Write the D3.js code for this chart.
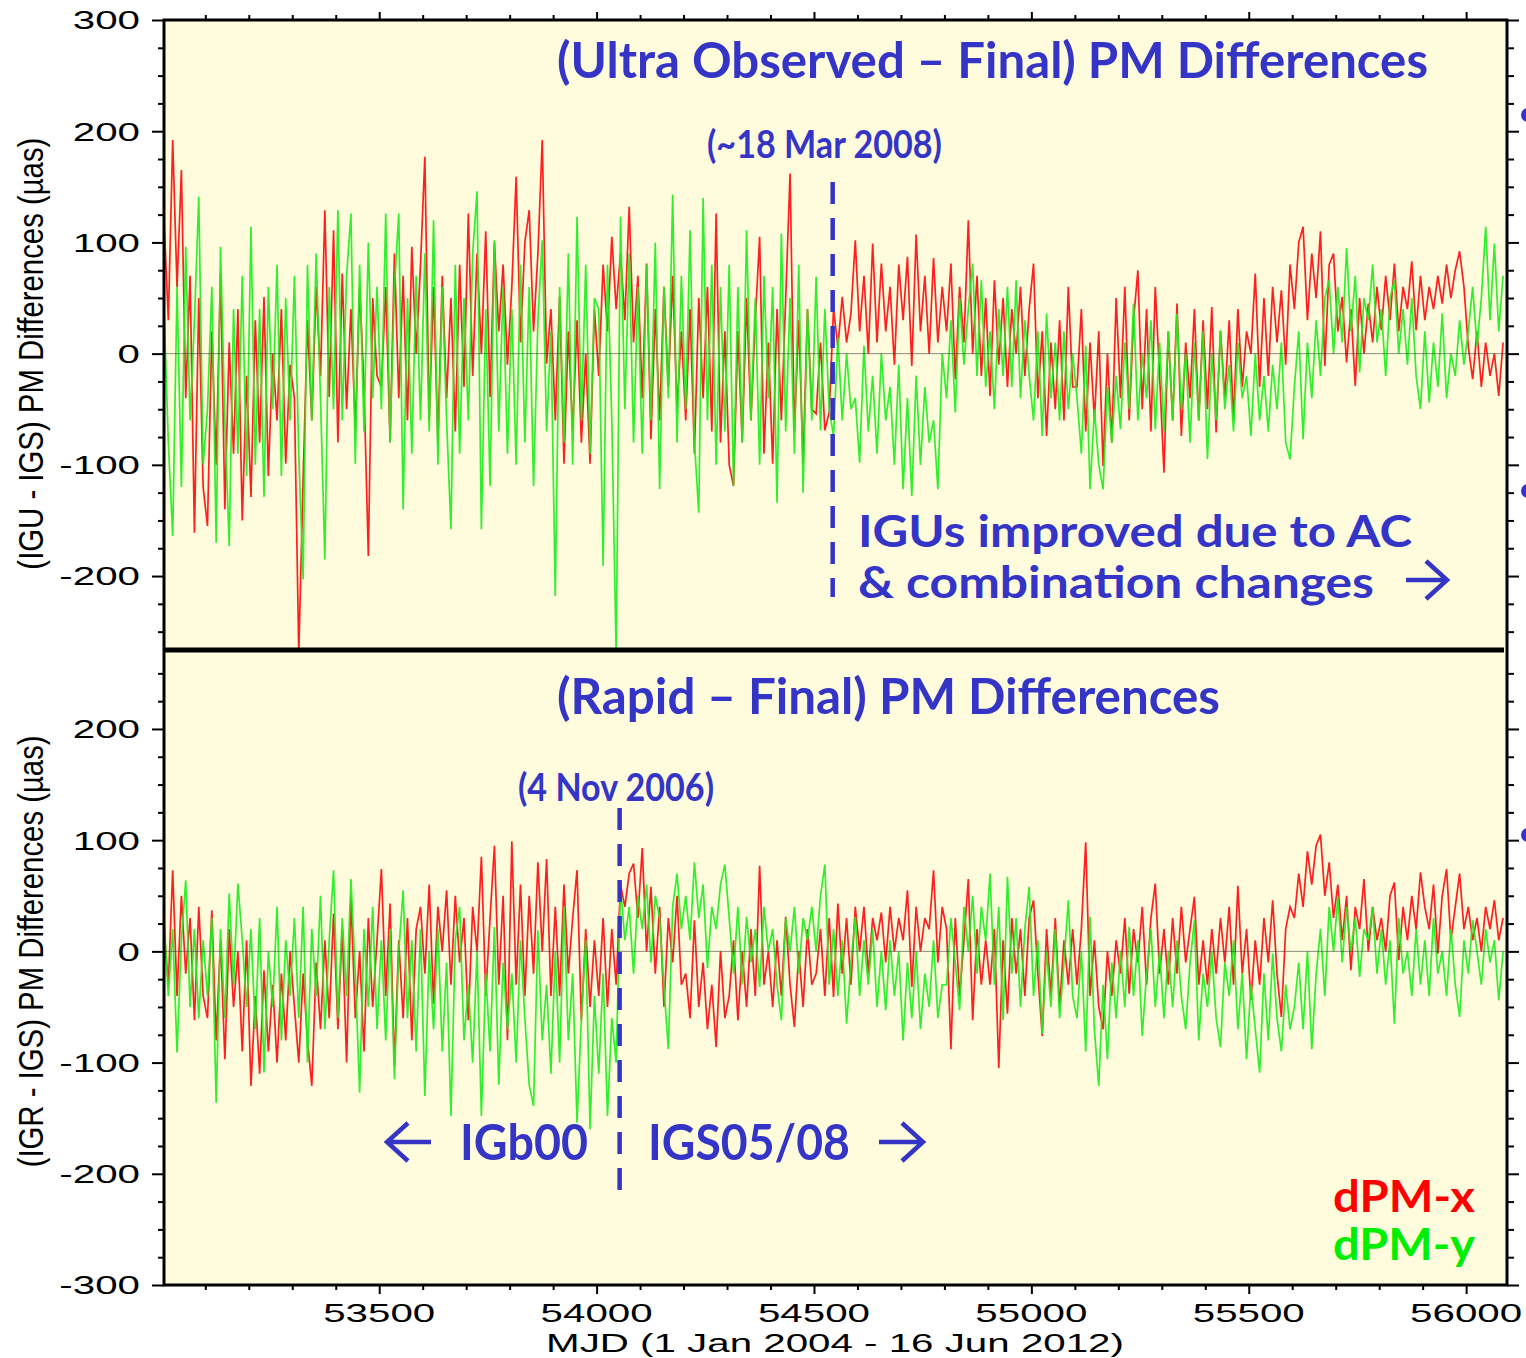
<!DOCTYPE html>
<html>
<head>
<meta charset="utf-8">
<script src="https://cdn.jsdelivr.net/npm/d3@7"></script>
<style>
  body { margin: 0; background: #fff; }
  svg  { display: block; }
  .tick-lab { font-family: "Liberation Sans", Arial, sans-serif; font-size: 26px; fill: #000; }
  .note     { font-family: Lato, "Open Sans", sans-serif; font-weight: 700; }
</style>
</head>
<body>
<svg id="chart" width="1526" height="1358"></svg>
<script>
// ── 데이터 (그림에서 읽은 값, MJD 53005 부터 10일 간격) ──────────
const START_MJD = 53005;
const STEP_DAYS = 10;

// (IGU - IGS) dPM-x
const iguDx = [
  120, 30, 192, 60, 165, -40, 70, -161, 50, -120,
  -155, 20, -100, 72, -140, 10, -90, 40, -150, -20,
  -129, 30, -80, 51, -110, 0, -60, 40, -99, -10,
  -40, -270, -113, 30, -60, 60, -20, 129, -39, 111,
  -80, 72, -50, 40, -69, 60, -30, -182, 50, -20,
  -30, 60, -80, 90, -40, 70, -60, 96, 0, 80,
  177, -60, 60, -80, 70, -40, 50, -70, 80, -30,
  126, -20, 90, 0, 110, -39, 100, 20, 80, -10,
  60, 159, 10, 100, 129, 20, 90, 192, -9, 40,
  -60, 51, -99, 20, -70, 30, -80, 0, -99, 40,
  -20, 80, 20, 105, 40, 90, 30, 132, 10, 70,
  -40, 81, -77, 40, -60, 60, -30, 70, -50, 20,
  -60, 40, -90, 50, -40, 60, -70, 126, -80, 20,
  -100, -119, 20, -80, 50, -60, 30, 105, -90, 10,
  -99, 40, -60, 50, 162, -70, 30, -99, 40, -50,
  -54, 10, -69, -53, 40, 6, 51, 10, 36, 102,
  20, 70, 0, 99, 10, 81, 20, 60, -10, 80,
  30, 87, -11, 107, 20, 70, 0, 86, 10, 60,
  20, 81, -23, 60, 10, 120, 0, 70, -20, 50,
  -38, 66, -10, 50, -30, 40, 0, 60, -20, 40,
  81, -40, 20, -74, 10, -50, 30, -60, 60, -30,
  -30, 40, -70, 10, -60, 20, -101, 0, -80, 50,
  -40, 60, -60, 30, 75, -50, 40, -70, 60, -20,
  -107, 20, -60, 45, -74, 10, -40, 40, -60, 30,
  -50, 42, -71, 20, -40, 30, -60, 40, -30, 20,
  0, 72, -30, 50, -20, 60, 10, 57, -10, 80,
  40, 100, 114, 30, 90, 50, 110, -11, 80, 90,
  20, 51, -8, 40, -29, 50, 0, 45, 10, 60,
  21, 70, 30, 81, 20, 60, 40, 83, 21, 70,
  30, 60, 40, 70, 45, 80, 50, 75, 92, 60,
  6, -23, 20, -30, 10, -20, 0, -38, 10
];

// (IGU - IGS) dPM-y
const iguDy = [
  40, -80, -164, 60, -120, 96, -60, 30, 141, -100,
  -50, 60, -170, 96, -60, -173, 40, -90, 70, -110,
  114, -100, 40, -129, 60, -50, 80, -110, 50, -60,
  70, -90, -203, 80, -60, 90, -40, -185, 60, -50,
  129, -60, 70, 126, -99, 80, -70, 100, -40, 60,
  -50, 126, -80, 60, 126, -140, 50, -90, 70, -60,
  90, -70, 120, -100, 60, -60, -158, 80, -90, 50,
  -60, 90, 146, -158, 40, -119, 102, -70, 60, -90,
  40, -100, 80, -80, 60, -119, 30, 102, -70, 20,
  -218, 60, -80, 90, -100, 123, -60, 80, -90, 50,
  40, -191, 80, -60, -270, 123, -50, 90, -80, 60,
  -90, 80, -60, 100, -122, 60, -40, 143, -80, 70,
  -50, 111, -80, -143, 140, -60, 80, -100, 60, -70,
  80, -119, 60, -80, 111, -60, 50, -100, 70, -40,
  60, -134, 108, -70, 50, -90, 80, -125, 40, -60,
  69, -69, 40, -50, -74, 15, -60, 0, -50, -40,
  -98, 7, -70, -20, -90, 0, -60, -30, -100, -10,
  -122, -40, -128, -20, -100, -30, -80, -60, -122, 0,
  -40, 30, -53, 50, -10, 40, 81, -20, 66, -30,
  20, -50, 40, -20, 60, -30, 66, -40, 30, -20,
  -60, 20, -74, 36, -40, 10, -60, 20, -50, 0,
  -40, -90, 7, -122, -50, -100, -122, -30, -80, -20,
  -68, 10, -50, 45, -60, 0, -40, 30, -68, 10,
  -70, 20, -60, 36, -50, 0, -80, 10, -60, 20,
  -95, 0, -60, 21, -50, -10, -70, 10, -40, -20,
  -74, 0, -60, -20, -70, -10, -50, 10, -80, -95,
  -30, 20, -77, 10, -40, 30, -20, 50, 66, 0,
  60, 10, 95, 20, 70, -17, 50, 30, 80, 10,
  40, -20, 50, 66, 0, 40, -10, 50, -20, -50,
  20, -44, 10, -30, 36, -40, 0, -20, 30, -10,
  20, 60, 7, 50, 114, 30, 99, 20, 70
];

// (IGR - IGS) dPM-x
const igrDx = [
  20, -30, 73, -40, 50, -20, 30, -62, 40, -40,
  -60, 37, -80, 10, -97, 20, -50, 0, -90, 10,
  -121, -40, -110, -17, -90, -30, -100, -20, -80, 0,
  -50, -100, -20, -80, -121, -10, -70, 10, -60, 34,
  -70, 20, -100, 49, -60, 0, -90, 30, -50, 10,
  74, -40, 43, -103, 10, -60, 30, -80, 20, 40,
  -20, 60, -47, 40, 0, 55, -30, 50, -10, 30,
  -62, 40, 0, 85, -40, 30, 95, -30, 50, -80,
  99, -30, 60, -40, 50, -20, 80, 0, 83, -40,
  40, -40, 60, -20, 30, 73, -62, 20, -50, 10,
  -40, 30, -50, 20, -30, 60, 40, 70, 79, 30,
  93, 0, 58, -20, 40, -50, 30, -10, 50, -30,
  -20, -60, 28, -50, -10, -70, -30, -86, 0, -60,
  -40, 10, -62, 0, -50, 20, -40, 77, -30, 0,
  -50, 10, -40, 31, -30, -68, 0, -50, 20, -30,
  -20, 20, -40, 30, -41, 43, -20, 30, -30, 40,
  0, 40, -20, 30, 10, 35, -10, 40, 0, 30,
  10, 55, -32, 40, 0, 30, 20, 73, -10, 40,
  20, -88, 30, -40, 10, 65, -62, 20, -30, 10,
  -30, 20, -105, 10, -56, 30, -20, 20, -40, 30,
  46, -20, -76, 20, -40, 30, -50, 10, -30, 20,
  -30, 20, 98, -40, 10, -50, -70, 0, -40, 10,
  -20, 30, -38, 20, -10, 40, -30, 30, 61, -20,
  20, -30, 30, -20, 40, -10, 20, 49, -30, 10,
  -30, 20, -20, 30, -10, 40, -30, 59, -20, 20,
  -44, 10, -30, 30, -10, 46, -20, -59, 20, 40,
  30, 70, 40, 90, 60, 95, 105, 50, 80, 30,
  60, 10, 50, -17, 40, 20, 65, 0, 40, 10,
  30, 0, 50, 62, -8, 40, 10, 50, 20, 71,
  40, 20, 60, -2, 50, 74, 10, 40, 70, 20,
  40, 10, 30, 0, 40, 20, 46, 10, 30
];

// (IGR - IGS) dPM-y
const igrDy = [
  30, -40, 20, -91, 10, 64, -50, 20, -60, 10,
  -40, 30, -136, 20, -60, 52, -30, 61, 10, -50,
  20, -70, 30, -109, 0, -50, 40, -80, 10, -40,
  30, -60, 40, -100, 20, -40, 50, -70, 10, 73,
  -60, 30, -40, 65, -20, -127, 20, -50, 40, -70,
  10, -80, 20, -115, 0, 55, -60, 10, -90, 20,
  -130, 0, -70, 20, -90, -10, -148, 10, 40, -80,
  -30, -100, 0, -148, -20, -90, 22, -120, -10, -70,
  -20, -100, 10, -60, -120, -139, 19, -80, -30, -110,
  0, -100, 40, -80, -20, -154, -60, 10, -160, -40,
  -110, -20, -148, -60, -100, 58, 10, 40, -20, 50,
  20, 60, -10, 50, 30, -32, -88, 40, 70, 20,
  50, 10, 80, 30, 60, -15, 40, 20, 60, 78,
  30, -20, 40, -30, 31, -10, 20, -32, 40, 0,
  20, -30, -62, 30, 0, 40, -20, 30, 10, 40,
  0, 50, 78, -30, 20, -40, 10, -65, -10, 31,
  -40, 10, -30, 20, -50, 0, -53, 10, -40, 0,
  -80, -10, -60, 0, -70, -20, -50, 10, -60, -30,
  -30, 30, -10, -53, 40, 0, 50, -20, 40, 10,
  70, -30, 40, -62, 67, -20, 30, -50, 20, 58,
  -40, 10, -74, 0, -50, 20, -60, -10, 46, -40,
  -60, 0, -90, 31, -70, -121, -30, -97, -10, -60,
  0, -50, 22, -40, 10, -76, -20, 20, -50, 0,
  -60, 0, -50, 10, -40, -70, -10, 28, -80, -20,
  -50, 0, -60, -86, -10, -40, 10, -70, -20, -97,
  -30, -70, -109, -20, -80, -2, -60, -90, -30, -70,
  -50, -10, -70, 0, -88, -20, 20, -40, 40, 0,
  49, -10, 40, 0, 30, -23, 20, 10, 40, -20,
  20, -30, 10, -65, 30, -20, 0, -40, 20, -30,
  10, -40, 30, -20, 0, -40, 20, -30, -59, 10,
  -20, 28, 0, -30, 20, -10, 10, -44, 0
];

// 축 눈금
const xLabelTicks   = [53500, 54000, 54500, 55000, 55500, 56000];
const yTopLabels    = [300, 200, 100, 0, -100, -200];
const yBottomLabels = [200, 100, 0, -100, -200, -300];

// 주석 날짜 (MJD)
const ultraChangeMJD = 54543;  // ~18 Mar 2008
const rapidChangeMJD = 54053;  // 4 Nov 2006 (그림상 위치)

// ── 레이아웃 ──────────────────────────────────────────────────
const X0 = 164, X1 = 1507;
const TOP_Y0 = 20, MID_Y = 650, BOT_Y1 = 1285;
const BLUE  = "#3434c6";
const RED   = "#ff1f1f";
const GREEN = "#1fee1f";

const svg = d3.select("#chart");

const x = d3.scaleLinear().domain([53005, 56094]).range([X0, X1]);
const yTop = d3.scaleLinear().domain([-266.5, 300]).range([MID_Y, TOP_Y0]);
const yBot = d3.scaleLinear().domain([-300, 271]).range([BOT_Y1, MID_Y]);

const toPoints = arr => arr.map((v, i) => ({ mjd: START_MJD + i * STEP_DAYS, v }));

// 배경
svg.append("rect").attr("x", X0).attr("y", TOP_Y0)
   .attr("width", X1 - X0).attr("height", BOT_Y1 - TOP_Y0).attr("fill", "#fefcdd");

// 클립 영역
const defs = svg.append("defs");
defs.append("clipPath").attr("id", "clip-top").append("rect")
    .attr("x", X0).attr("y", TOP_Y0).attr("width", X1 - X0).attr("height", MID_Y - TOP_Y0);
defs.append("clipPath").attr("id", "clip-bot").append("rect")
    .attr("x", X0).attr("y", MID_Y).attr("width", X1 - X0).attr("height", BOT_Y1 - MID_Y);

// ── 시계열 ───────────────────────────────────────────────────
function drawPanel(y, clipId, seriesX, seriesY) {
    const g = svg.append("g").attr("clip-path", `url(#${clipId})`);
    const line = d3.line().x(d => x(d.mjd)).y(d => y(d.v));
    g.append("path").datum(toPoints(seriesX))
        .attr("d", line).attr("fill", "none")
        .attr("stroke", RED).attr("stroke-width", 1.7);
    g.append("path").datum(toPoints(seriesY))
        .attr("d", line).attr("fill", "none")
        .attr("stroke", GREEN).attr("stroke-width", 1.7).attr("stroke-opacity", 0.92);
    // 0 기준선
    g.append("line").attr("x1", X0).attr("x2", X1)
        .attr("y1", y(0)).attr("y2", y(0))
        .attr("stroke", "#333").attr("stroke-opacity", 0.55).attr("stroke-width", 1);
}
drawPanel(yTop, "clip-top", iguDx, iguDy);
drawPanel(yBot, "clip-bot", igrDx, igrDy);

// ── 축 눈금 ──────────────────────────────────────────────────
function tickAxis(axis, transform) {
    const g = svg.append("g").attr("transform", transform).call(axis);
    g.select(".domain").remove();
    g.selectAll(".tick line").attr("stroke", "#000").attr("stroke-width", 2);
    g.selectAll(".tick text").remove();
    return g;
}

const xMinor = d3.range(53100, 56001, 100).filter(d => d % 500 !== 0);
const xMajor = d3.range(53500, 56001, 500);
tickAxis(d3.axisTop(x).tickValues(xMinor).tickSize(5).tickSizeOuter(0), `translate(0,${TOP_Y0})`);
tickAxis(d3.axisTop(x).tickValues(xMajor).tickSize(8).tickSizeOuter(0), `translate(0,${TOP_Y0})`);
tickAxis(d3.axisBottom(x).tickValues(xMinor).tickSize(5).tickSizeOuter(0), `translate(0,${BOT_Y1})`);
tickAxis(d3.axisBottom(x).tickValues(xMajor).tickSize(9).tickSizeOuter(0), `translate(0,${BOT_Y1})`);

const topMinor = d3.range(-250, 301, 25).filter(d => d % 100 !== 0);
const botMinor = d3.range(-300, 251, 25).filter(d => d % 100 !== 0);
const topMajor = d3.range(-200, 301, 100);
const botMajor = d3.range(-300, 201, 100);

[[yTop, topMinor, topMajor], [yBot, botMinor, botMajor]].forEach(([y, minor, major]) => {
    tickAxis(d3.axisLeft(y).tickValues(minor).tickSize(6).tickSizeOuter(0), `translate(${X0},0)`);
    tickAxis(d3.axisLeft(y).tickValues(major).tickSize(12).tickSizeOuter(0), `translate(${X0},0)`);
    tickAxis(d3.axisRight(y).tickValues(minor).tickSize(7).tickSizeOuter(0), `translate(${X1},0)`);
    tickAxis(d3.axisRight(y).tickValues(major).tickSize(12).tickSizeOuter(0), `translate(${X1},0)`);
});

// 눈금 라벨 (원본처럼 가로로 늘린 글꼴)
const STRETCH = 1.55;
svg.append("g").selectAll("text").data(yTopLabels).join("text")
    .attr("class", "tick-lab").attr("text-anchor", "end").attr("dy", "0.36em")
    .attr("transform", d => `translate(140,${yTop(d)}) scale(${STRETCH},1)`)
    .text(d => String(d));
svg.append("g").selectAll("text").data(yBottomLabels).join("text")
    .attr("class", "tick-lab").attr("text-anchor", "end").attr("dy", "0.36em")
    .attr("transform", d => `translate(140,${yBot(d)}) scale(${STRETCH},1)`)
    .text(d => String(d));
svg.append("g").selectAll("text").data(xLabelTicks).join("text")
    .attr("class", "tick-lab").attr("text-anchor", "middle")
    .attr("transform", d => `translate(${x(d)},1322) scale(${STRETCH},1)`)
    .text(d => String(d));

// 축 제목
svg.append("text").attr("class", "tick-lab").attr("text-anchor", "middle")
    .attr("transform", `translate(835,1352) scale(${STRETCH},1)`)
    .text("MJD (1 Jan 2004 - 16 Jun 2012)");

function yTitle(label, cy) {
    svg.append("text").attr("class", "tick-lab").attr("text-anchor", "middle")
        .style("font-size", "29px")
        .attr("transform", `translate(43,${cy}) rotate(-90) scale(1,1.2)`)
        .attr("textLength", 432).attr("lengthAdjust", "spacingAndGlyphs")
        .text(label);
}
yTitle("(IGU - IGS) PM Differences (\u00b5as)", yTop(0));
yTitle("(IGR - IGS) PM Differences (\u00b5as)", yBot(0));

// ── 프레임 ───────────────────────────────────────────────────
const frame = svg.append("g").attr("stroke", "#000").attr("fill", "none");
frame.append("rect").attr("x", X0).attr("y", TOP_Y0)
    .attr("width", X1 - X0).attr("height", BOT_Y1 - TOP_Y0).attr("stroke-width", 3);
frame.append("line").attr("x1", X0).attr("x2", X1 - 3)
    .attr("y1", MID_Y).attr("y2", MID_Y).attr("stroke-width", 5);

// ── 주석 ─────────────────────────────────────────────────────
function note(text, tx, ty, size, len, color) {
    svg.append("text").attr("class", "note")
        .attr("x", tx).attr("y", ty)
        .style("font-size", size + "px").attr("fill", color || BLUE)
        .attr("textLength", len).attr("lengthAdjust", "spacingAndGlyphs")
        .text(text);
}
function arrow(xa, xb, ay, dir) {
    // dir = 1 → 오른쪽, -1 → 왼쪽
    const tip = dir > 0 ? xb : xa;
    const back = tip - dir * 21;
    svg.append("path")
        .attr("d", `M${xa},${ay}L${xb},${ay}M${back},${ay - 19}L${tip},${ay}L${back},${ay + 19}`)
        .attr("fill", "none").attr("stroke", BLUE).attr("stroke-width", 4.5)
        .attr("stroke-linejoin", "miter");
}
function dashed(mjd, ya, yb) {
    svg.append("line").attr("x1", x(mjd)).attr("x2", x(mjd))
        .attr("y1", ya).attr("y2", yb)
        .attr("stroke", BLUE).attr("stroke-width", 4.5)
        .attr("stroke-dasharray", "22,14");
}

note("(Ultra Observed \u2013 Final) PM Differences", 557, 78, 50, 871);
note("(~18 Mar 2008)", 707, 158, 38, 235);
dashed(ultraChangeMJD, 182, 597);
note("IGUs improved due to AC", 858, 547, 43, 554);
note("& combination changes", 858, 598, 43, 516);
arrow(1406, 1447, 580, 1);

note("(Rapid \u2013 Final) PM Differences", 557, 714, 50, 663);
note("(4 Nov 2006)", 518, 801, 38, 196);
dashed(rapidChangeMJD, 808, 1193);
arrow(387, 431, 1142, -1);
note("IGb00", 460, 1160, 50, 128);
note("IGS05/08", 648, 1160, 50, 202);
arrow(879, 923, 1142, 1);

note("dPM-x", 1333, 1212, 44, 142, "#ff0000");
note("dPM-y", 1333, 1260, 44, 142, "#00ee00");

// 오른쪽 잘린 글머리 기호
svg.append("g").selectAll("circle").data([115, 491, 835]).join("circle")
    .attr("cx", 1528).attr("cy", d => d).attr("r", 7).attr("fill", BLUE);
</script>
</body>
</html>
